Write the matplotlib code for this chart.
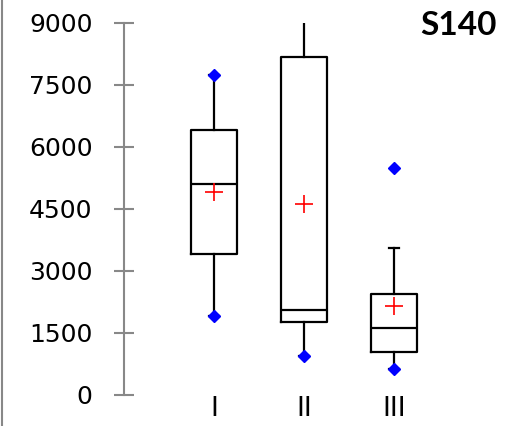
import matplotlib
matplotlib.use("Agg")
import matplotlib.pyplot as plt
from matplotlib.lines import Line2D

categories = ['I', 'II', 'III']
q1 = [3400, 1770, 1050]
medians = [5100, 2060, 1620]
q3 = [6400, 8180, 2440]
whisker_lo = [1920, 940, 620]
whisker_hi = [7750, 9300, 3560]
means = [4900, 4620, 2160]
mins = [1920, 940, 620]
maxs = [7750, 9300, 5480]
yticks = [0, 1500, 3000, 4500, 6000, 7500, 9000]

fig = plt.figure(figsize=(5.1, 4.26), dpi=100)
ax = fig.add_axes([124 / 510, 31 / 426, 360 / 510, 372 / 426])

positions = [1, 2, 3]
stats = []
for i in range(len(categories)):
    stats.append({
        'med': medians[i], 'q1': q1[i], 'q3': q3[i],
        'whislo': whisker_lo[i], 'whishi': whisker_hi[i],
        'mean': means[i], 'fliers': [], 'label': categories[i],
    })

line = dict(color='black', linewidth=1.6)
ax.bxp(stats, positions=positions, widths=0.51, capwidths=0.11,
       showmeans=True, showfliers=False,
       boxprops=line, whiskerprops=line, capprops=line, medianprops=line,
       meanprops=dict(marker='+', markeredgecolor='red', markersize=13,
                      markeredgewidth=1.2))

ax.plot(positions, mins, linestyle='none', marker='D', color='blue',
        markersize=6.5, zorder=5)
ax.plot(positions, maxs, linestyle='none', marker='D', color='blue',
        markersize=6.5, zorder=5)

ax.set_xlim(0, 4)
ax.set_ylim(0, 9000)
ax.set_yticks(yticks)
ax.set_yticklabels([str(t) for t in yticks])
ax.set_xticks(positions)
ax.set_xticklabels(categories)

for s in ['top', 'right', 'bottom']:
    ax.spines[s].set_visible(False)
ax.spines['left'].set_color('#888888')
ax.spines['left'].set_linewidth(1.5)
ax.tick_params(axis='y', direction='inout', length=15, width=1.5,
               color='#888888', pad=15, labelsize=18)
ax.tick_params(axis='x', length=0, pad=1, labelsize=19)

fig.text(497 / 510, 1 - 35 / 426, 'S140', ha='right', va='baseline',
         fontsize=24, fontweight='bold', family=['Lato', 'DejaVu Sans'])

fig.add_artist(Line2D([2.5 / 510, 2.5 / 510], [0, 1], color='#888888',
                      linewidth=1.5, transform=fig.transFigure))

fig.savefig('out.png', dpi=100)
